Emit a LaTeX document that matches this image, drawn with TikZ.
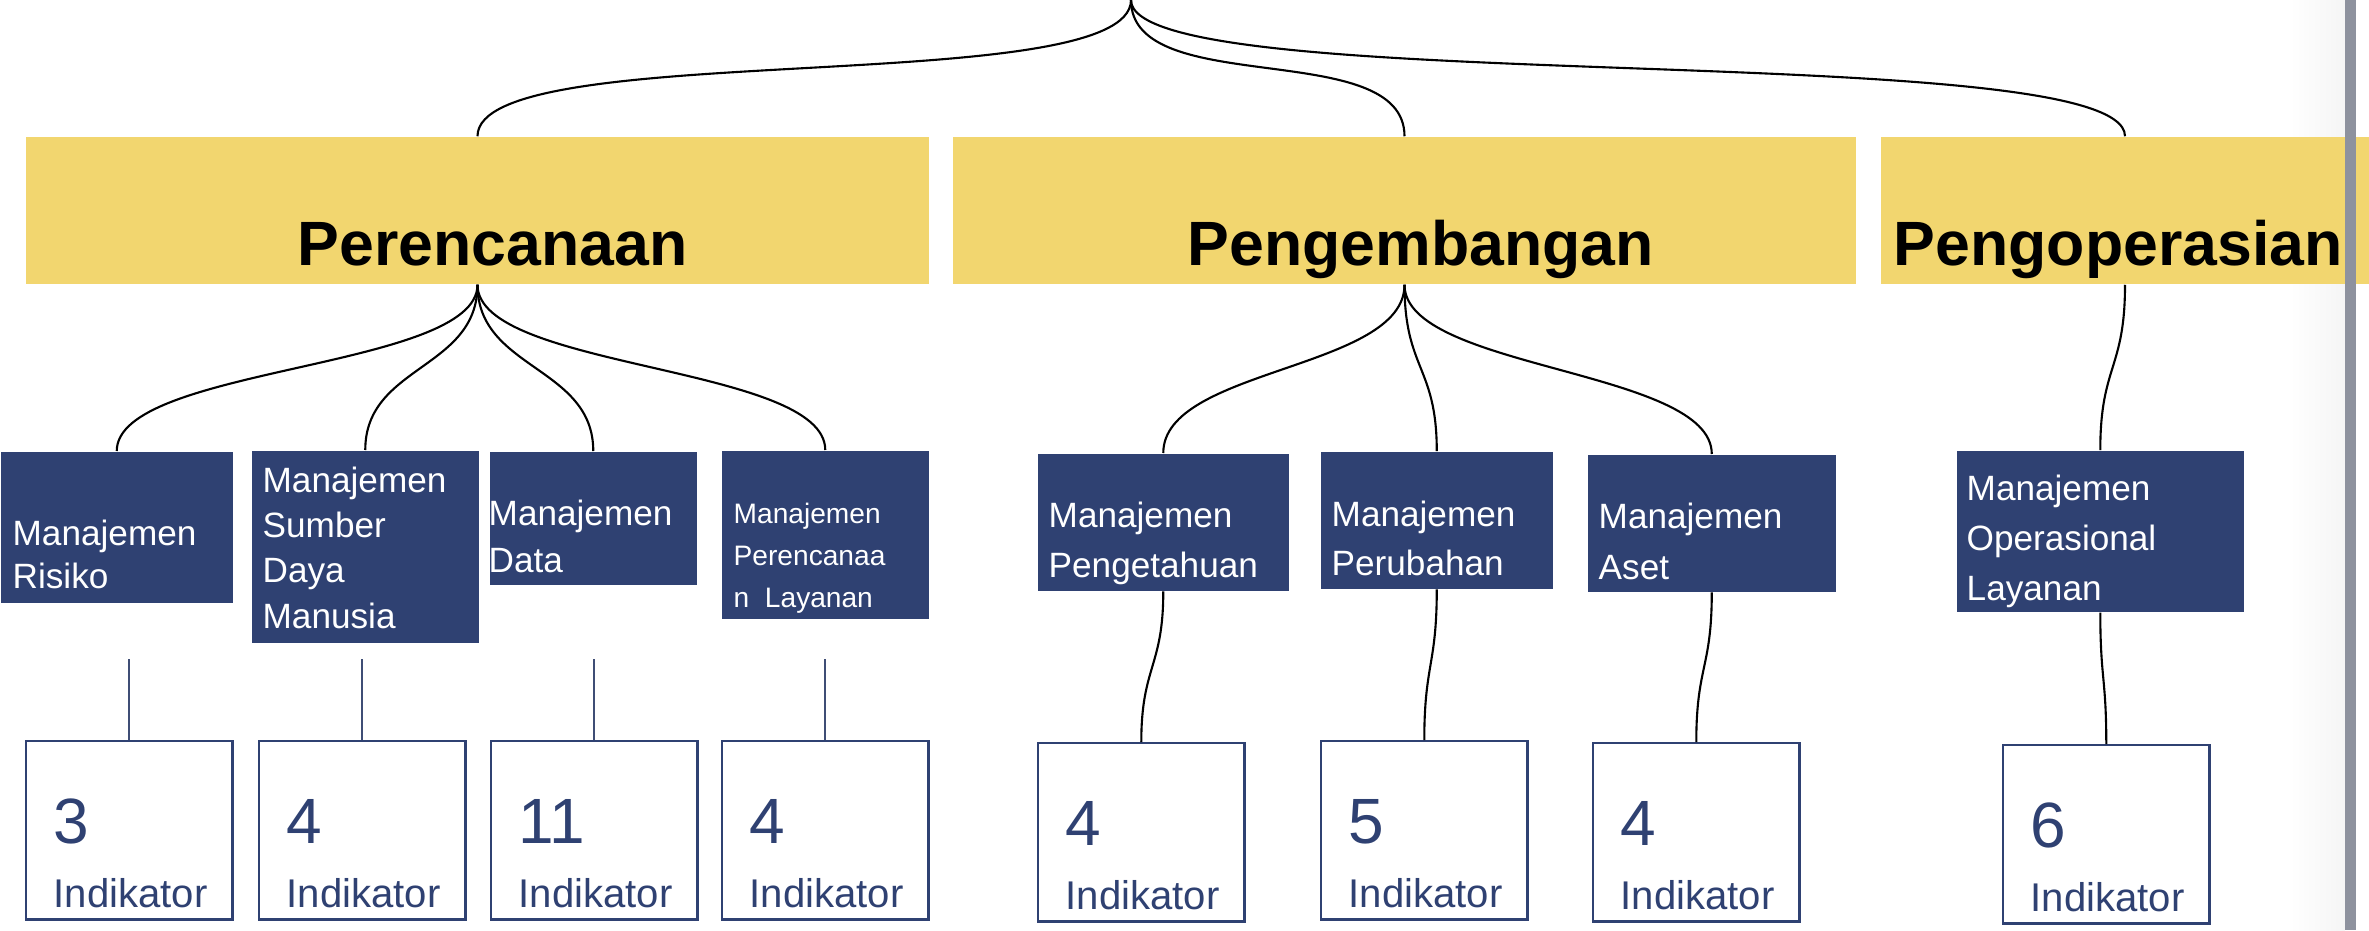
\documentclass[tikz,border=0pt]{standalone}
\usepackage{fontspec}
\setmainfont{Liberation Sans}
\usetikzlibrary{positioning}
\definecolor{catyellow}{HTML}{F2D66F}
\definecolor{navy}{HTML}{2F4172}
\definecolor{barcol}{HTML}{8E929E}
\tikzset{
  catbox/.style={fill=catyellow, inner sep=0pt, minimum height=1.47cm},
  cattext/.style={inner sep=0pt, anchor=base west,
                  font=\fontsize{17.8}{20}\selectfont\bfseries},
  midbox/.style={fill=navy, inner sep=0pt, anchor=north west},
  midtext/.style={text=white, align=left, inner sep=0pt, anchor=base west,
                  font=\fontsize{10}{#1}\selectfont},
  midtext/.default=12.8,
  indbox/.style={draw=navy, line width=0.7pt, fill=white, inner sep=0pt,
                 minimum width=2.06cm, minimum height=1.78cm, anchor=north west},
  numtext/.style={text=navy, inner sep=0pt, anchor=base west,
                  font=\fontsize{18.2}{20}\selectfont},
  indtext/.style={text=navy, inner sep=0pt, anchor=base west,
                  font=\fontsize{11.4}{13}\selectfont},
  link/.style={draw=black, line width=0.6pt},
  stub/.style={draw=navy!80!gray, line width=0.6pt}
}
\newcommand{\indnode}[4]{%
  \node[indbox] (#1) at (#2,#3) {};
  \path (#1.north west) ++(28,103) node[numtext] (#1num) {#4};
  \path (#1.north west) ++(28,167) node[indtext] (#1lbl) {Indikator};
}

\begin{document}
\begin{tikzpicture}[x=0.01cm, y=-0.01cm]
  \useasboundingbox (0,0) rectangle (2369,930);
  \fill[white] (0,0) rectangle (2369,930);
  \shade[left color=white, right color=black!4] (2290,0) rectangle (2345,930);

  % phases
  \coordinate (root) at (1131,0);
  \node[catbox, minimum width=9.03cm] (plan) at (477.5,210.5) {};
  \node[catbox, minimum width=9.03cm] (dev) at (1404.5,210.5) {};
  \node[catbox, minimum width=4.88cm] (ops) at (2125,210.5) {};
  \node[cattext] (plant) at (297,265) {Perencanaan};
  \node[cattext] (devt) at (1187,265) {Pengembangan};
  \node[cattext] (opst) at (1893,265) {Pengoperasian};

  % processes
  \node[midbox, minimum width=2.32cm, minimum height=1.51cm] (risiko) at (0,451) {};
  \node[midbox, minimum width=2.27cm, minimum height=1.92cm] (sdm) at (251,450) {};
  \node[midbox, minimum width=2.07cm, minimum height=1.33cm] (data) at (489,451) {};
  \node[midbox, minimum width=2.07cm, minimum height=1.68cm] (perlay) at (721,450) {};
  \node[midbox, minimum width=2.51cm, minimum height=1.37cm] (tahu) at (1037,453) {};
  \node[midbox, minimum width=2.32cm, minimum height=1.37cm] (ubah) at (1320,451) {};
  \node[midbox, minimum width=2.48cm, minimum height=1.37cm] (aset) at (1587,454) {};
  \node[midbox, minimum width=2.87cm, minimum height=1.61cm] (opl) at (1956,450) {};

  % text anchored at the baseline of its last line
  \node[midtext=12.2] (risikot) at (12,588) {Manajemen\\Risiko};
  \node[midtext=12.8] (sdmt) at (262,628) {Manajemen\\Sumber\\Daya\\Manusia};
  \node[midtext=13.1] (datat) at (488,572) {Manajemen\\Data};
  \node[midtext=11.9, font=\fontsize{8}{11.9}\selectfont] (perlayt) at (733,607)
    {Manajemen\\Perencanaa\\n\ \ Layanan};
  \node[midtext=14.2] (tahut) at (1048,577) {Manajemen\\Pengetahuan};
  \node[midtext=13.9] (ubaht) at (1331,575) {Manajemen\\Perubahan};
  \node[midtext=14.5] (asett) at (1598,579) {Manajemen\\Aset};
  \node[midtext=14.2] (oplt) at (1966,600) {Manajemen\\Operasional\\Layanan};

  % indicators
  \indnode{il1}{25}{740}{3}
  \indnode{il2}{258}{740}{4}
  \indnode{il3}{490}{740}{11}
  \indnode{il4}{721}{740}{4}
  \indnode{ir1}{1037}{742}{4}
  \indnode{ir2}{1320}{740}{5}
  \indnode{ir3}{1592}{742}{4}
  \indnode{ir4}{2002}{744}{6}

  % connectors
  \foreach \c in {plan,dev,ops}
    \draw[link] (root) .. controls +(0,100) and +(0,-100) .. (\c.north);
  \foreach \c in {risiko,sdm,data,perlay}
    \draw[link] (plan.south) .. controls +(0,85) and +(0,-85) .. (\c.north);
  \foreach \c in {tahu,ubah,aset}
    \draw[link] (dev.south) .. controls +(0,85) and +(0,-85) .. (\c.north);
  \draw[link] (ops.south) .. controls +(0,85) and +(0,-85) .. (opl.north);
  \draw[link] (tahu.south) .. controls +(0,76) and +(0,-76) .. (ir1.north);
  \draw[link] (ubah.south) .. controls +(0,76) and +(0,-76) .. (ir2.north);
  \draw[link] (aset.south) .. controls +(0,76) and +(0,-76) .. (ir3.north);
  \draw[link] (opl.south) .. controls +(0,66) and +(0,-66) .. (ir4.north);
  \coordinate (stubtop) at (0,659);
  \foreach \i in {1,...,4}
    \draw[stub] (il\i.north) -- (il\i.north |- stubtop);

  % window edge
  \fill[barcol] (2345,0) rectangle (2356,930);
\end{tikzpicture}
\end{document}
